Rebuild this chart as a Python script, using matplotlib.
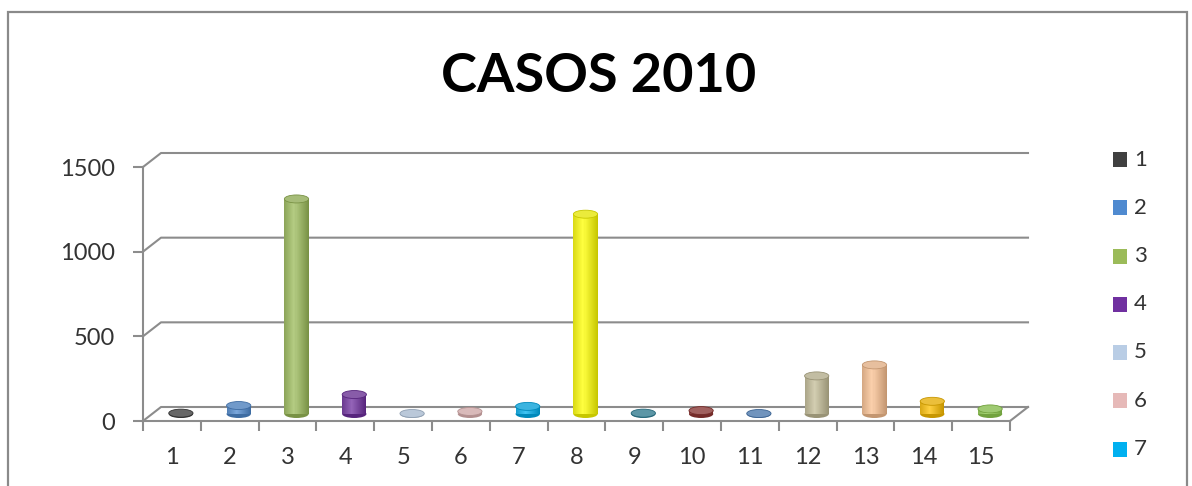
import numpy as np
import matplotlib
matplotlib.use("Agg")
import matplotlib.pyplot as plt
from matplotlib.patches import Rectangle, Ellipse
from matplotlib.lines import Line2D

# Data
categories = [str(i) for i in range(1, 16)]
casos = [5, 50, 1270, 115, 3, 15, 45, 1180, 5, 20, 3, 225, 290, 75, 30]
colors = ["#404040", "#4F8AD0", "#9BBB59", "#7030A0", "#B9CDE5",
          "#E6B9B8", "#00B0F0", "#FFFF00", "#31859C", "#953735",
          "#4F81BD", "#C4BD97", "#FAC090", "#FFC000", "#92D050"]
y_ticks = [0, 500, 1000, 1500]
legend_shown = 7   # rows of the legend that fit inside the frame

W, H = 1192, 486
fig = plt.figure(figsize=(W / 100, H / 100), dpi=100)
fig.patch.set_facecolor("white")
font = "Lato"
txt_c = "#333333"

# outer frame
fig.add_artist(Rectangle((8 / W, -0.05), 1179 / W, (H - 12) / H + 0.05,
                         transform=fig.transFigure, fill=False,
                         edgecolor="#8A8A8A", linewidth=1.6))

fig.text(599 / W, 1 - 76 / H, "CASOS 2010", ha="center", va="center",
         fontsize=39, fontweight="bold", family=font, color="black")

left, bottom, pw, ph = 143, 65, 867, 254
ax = fig.add_axes([left / W, bottom / H, pw / W, ph / H])
ax.set_xlim(0.5, 15.5)
ax.set_ylim(0, 1500)
ax.set_facecolor("none")

grid_c = "#8C8C8C"
px_x = 15.0 / pw          # data units per pixel, x
px_y = 1500.0 / ph        # data units per pixel, y
dx, dy = 18 * px_x, 14 * px_y   # depth offset of the back wall

for s in ["top", "right"]:
    ax.spines[s].set_visible(False)
for s in ["left", "bottom"]:
    ax.spines[s].set_color(grid_c)
    ax.spines[s].set_linewidth(1.5)

# back wall gridlines and side-wall connectors
for v in y_ticks:
    ax.add_line(Line2D([0.5, 0.5 + dx, 15.5 + dx], [v, v + dy, v + dy],
                       color=grid_c, lw=1.5, clip_on=False, zorder=1))
# floor right edge
ax.add_line(Line2D([15.5, 15.5 + dx], [0, dy], color=grid_c, lw=1.5,
                   clip_on=False, zorder=1))

# cylinders at mid depth
bw = 0.42
ell_h = 8 * px_y
for i, (v, c) in enumerate(zip(casos, colors)):
    xc = i + 1 + dx / 2
    y0 = dy / 2
    rgb = np.array(matplotlib.colors.to_rgb(c))
    dark = rgb * 0.78
    light = np.clip(rgb + (1 - rgb) * 0.25, 0, 1)
    n = 24
    for k in range(n):
        t = k / (n - 1)
        shade = 1 - abs(t - 0.4) / 0.6
        col = dark + (light - dark) * shade
        ax.add_patch(Rectangle((xc - bw / 2 + k * bw / n, y0), bw / n * 1.05, v,
                               facecolor=col, edgecolor="none", clip_on=False,
                               zorder=3))
    ax.add_patch(Ellipse((xc, y0), bw, ell_h, facecolor=dark, edgecolor="none",
                         clip_on=False, zorder=2.9))
    ax.add_patch(Ellipse((xc, y0 + v), bw, ell_h, facecolor=light * 0.92,
                         edgecolor=dark, linewidth=0.6, clip_on=False, zorder=4))

ax.set_xticks(range(1, 16))
ax.set_xticklabels(categories)
ax.set_xticks(np.arange(0.5, 16, 1), minor=True)
ax.tick_params(axis="x", which="major", length=0, pad=19, labelsize=17,
               labelcolor=txt_c)
ax.tick_params(axis="x", which="minor", length=7, width=1.5, color=grid_c,
               direction="out")
ax.set_yticks(y_ticks)
ax.tick_params(axis="y", length=7.2, width=1.5, color=grid_c, pad=13,
               labelsize=17, labelcolor=txt_c)
for lab in ax.get_xticklabels() + ax.get_yticklabels():
    lab.set_family(font)

# legend rows
for i in range(legend_shown):
    yc = 159.5 + 48.25 * i
    fig.add_artist(Rectangle((1113 / W, 1 - (yc + 7.5) / H), 14 / W, 15 / H,
                             transform=fig.transFigure, facecolor=colors[i],
                             edgecolor="none"))
    fig.text(1134 / W, 1 - yc / H, categories[i], ha="left", va="center",
             fontsize=16, family=font, color=txt_c)

fig.savefig("out.png", dpi=100)
